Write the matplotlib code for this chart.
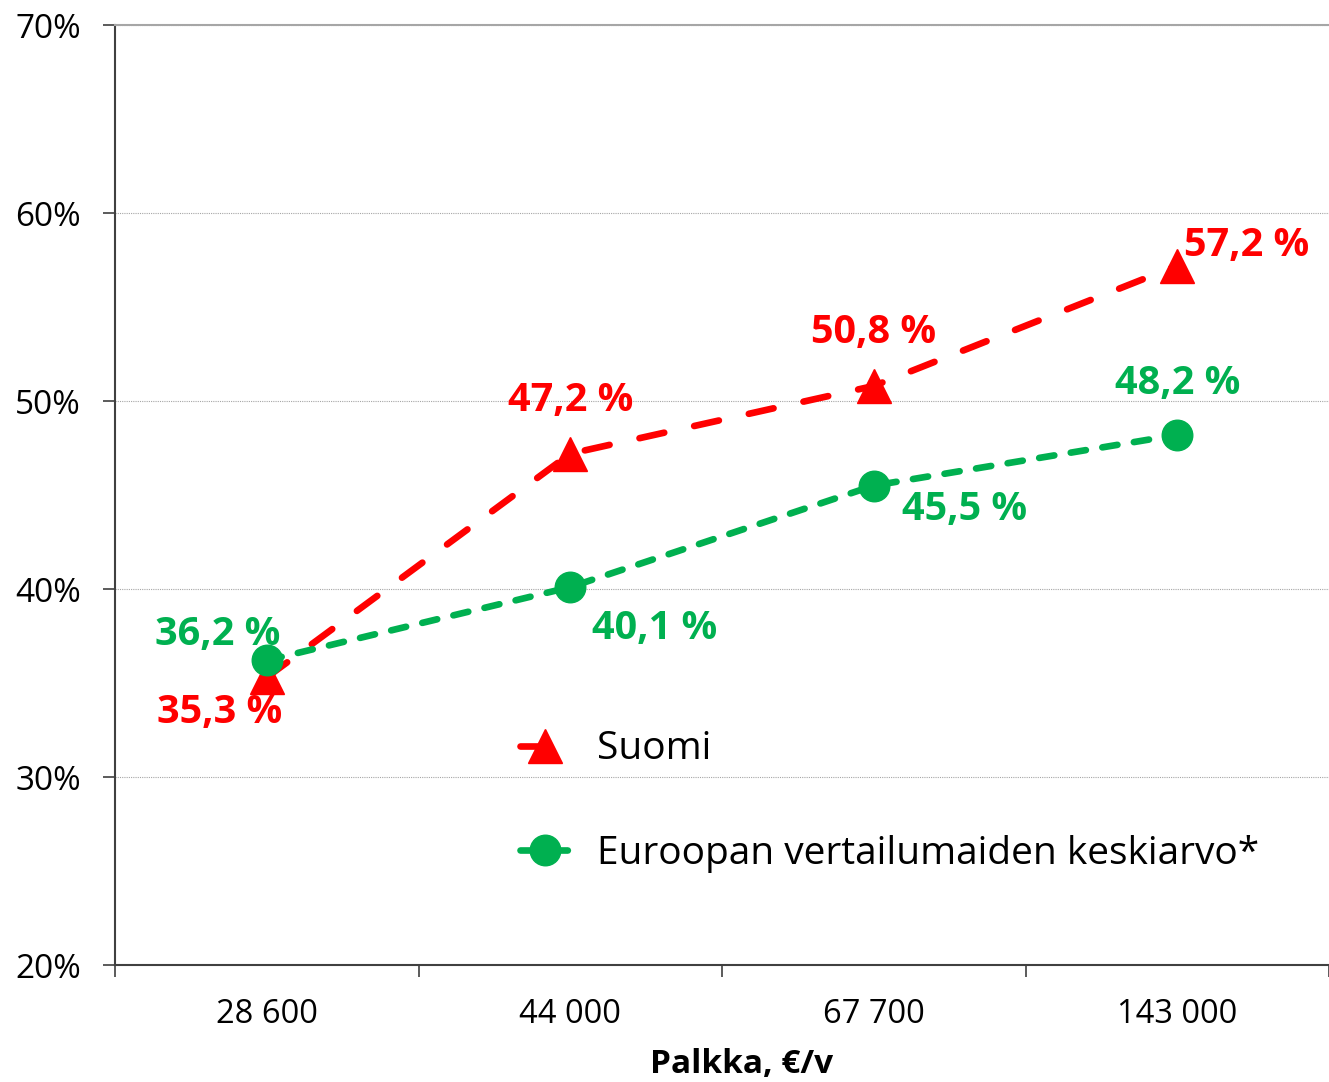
import matplotlib
matplotlib.use("Agg")
import matplotlib.pyplot as plt
from matplotlib.ticker import FixedLocator, NullFormatter, FuncFormatter

plt.rcParams["font.family"] = ["Open Sans", "DejaVu Sans"]

# ------------------------------
# Data
# ------------------------------
categories = ["28 600", "44 000", "67 700", "143 000"]
suomi = [35.3, 47.2, 50.8, 57.2]
eurooppa = [36.2, 40.1, 45.5, 48.2]
y_ticks = [20, 30, 40, 50, 60, 70]

RED = "#FF0000"
GREEN = "#00B050"

# label offsets in pixels (dx, dy), purely positional styling
suomi_offsets = [(-47, -35), (0, 53), (0, 53), (69, 20)]
eurooppa_offsets = [(-49, 26), (84, -41), (91, -24), (0, 51)]


def fmt_pct(v):
    return f"{v:.1f}".replace(".", ",") + " %"


def main():
    fig = plt.figure(figsize=(13.29, 10.82), dpi=100)
    ax = fig.add_axes([115 / 1329, 1 - 965 / 1082, 1214 / 1329, 940 / 1082])

    x = list(range(len(categories)))

    ax.plot(x, suomi, color=RED, lw=4.8, dashes=(3.8, 4.6), dash_capstyle="round",
            marker="^", ms=24, mec=RED, mfc=RED, label="Suomi", zorder=3)
    ax.plot(x, eurooppa, color=GREEN, lw=4.8, dashes=(2.3, 2.5), dash_capstyle="round",
            marker="o", ms=22, mec=GREEN, mfc=GREEN,
            label="Euroopan vertailumaiden keskiarvo*", zorder=4)

    for xi, v, off in zip(x, suomi, suomi_offsets):
        ax.annotate(fmt_pct(v), (xi, v), xytext=off, textcoords="offset pixels",
                    ha="center", va="center", color=RED, fontsize=28.5,
                    fontweight="bold", zorder=5)
    for xi, v, off in zip(x, eurooppa, eurooppa_offsets):
        ax.annotate(fmt_pct(v), (xi, v), xytext=off, textcoords="offset pixels",
                    ha="center", va="center", color=GREEN, fontsize=28.5,
                    fontweight="bold", zorder=5)

    ax.set_xlim(-0.5, len(categories) - 0.5)
    ax.set_ylim(20, 70)

    # x: major ticks at the category boundaries, labels at the centres
    ax.xaxis.set_major_locator(FixedLocator([i - 0.5 for i in range(len(categories) + 1)]))
    ax.xaxis.set_major_formatter(NullFormatter())
    ax.xaxis.set_minor_locator(FixedLocator(x))
    ax.set_xticklabels(categories, minor=True)
    ax.tick_params(axis="x", which="major", direction="out", length=8.6, width=1.2,
                   color="#404040")
    ax.tick_params(axis="x", which="minor", length=0, pad=24, labelsize=23.5)

    ax.set_yticks(y_ticks)
    ax.yaxis.set_major_formatter(FuncFormatter(lambda v, _: f"{v:.0f}%"))
    ax.tick_params(axis="y", direction="out", length=8.6, width=1.2, color="#404040",
                   pad=16, labelsize=24)

    ax.grid(axis="y", color="#A6A6A6", lw=0.8, ls=(0, (1, 1)))
    ax.set_axisbelow(True)

    for side in ("left", "bottom"):
        ax.spines[side].set_color("#404040")
        ax.spines[side].set_linewidth(1.5)
    ax.spines["top"].set_color("#A6A6A6")
    ax.spines["top"].set_linewidth(1.5)
    ax.spines["right"].set_visible(False)

    ax.set_xlabel("Palkka, €/v", fontsize=24, fontweight="bold", va="center")
    ax.xaxis.set_label_coords(0.516, -0.106)

    ax.legend(loc="center left", bbox_to_anchor=(0.3336, 0.174), frameon=False,
              fontsize=28, handlelength=1.3, handletextpad=0.68, labelspacing=1.71,
              borderpad=0, borderaxespad=0)

    fig.savefig("out.png", dpi=100)


if __name__ == "__main__":
    main()
